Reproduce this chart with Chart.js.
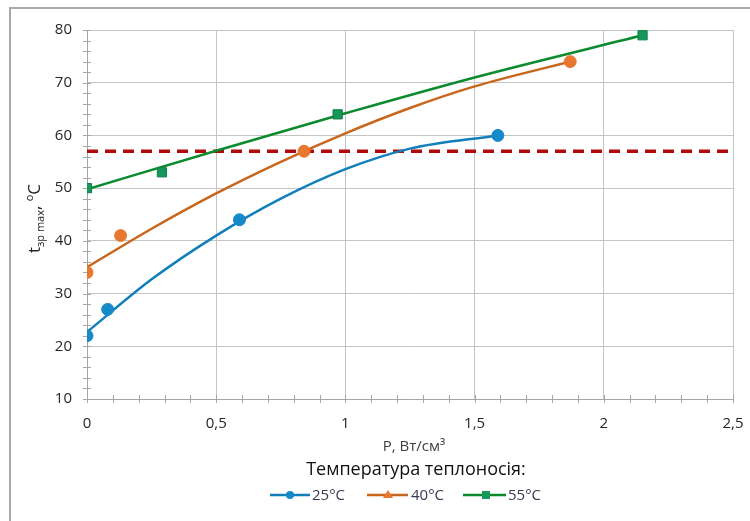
<!DOCTYPE html>
<html>
<head>
<meta charset="utf-8">
<script src="https://cdn.jsdelivr.net/npm/chart.js@4.4.0/dist/chart.umd.min.js"></script>
<style>
  html, body { margin: 0; padding: 0; background: #fff; }
  #wrap { position: relative; width: 750px; height: 521px; }
</style>
</head>
<body>
<div id="wrap"><canvas id="chart" width="750" height="521"></canvas></div>
<script>
// measured points
const p25x = [0, 0.08, 0.59, 1.59];
const p25y = [22, 27, 44, 60];
const p40x = [0, 0.13, 0.84, 1.87];
const p40y = [34, 41, 57, 74];
const p55x = [0, 0.29, 0.97, 2.15];
const p55y = [50, 53, 64, 79];

// trend curves
const t25x = [0, 0.25, 0.5, 0.75, 1, 1.25, 1.59];
const t25y = [22.7, 32.7, 41, 48, 53.6, 57.5, 60];
const t40x = [0, 0.25, 0.5, 0.75, 1, 1.25, 1.5, 1.87];
const t40y = [35, 42.3, 49, 55, 60.4, 65.2, 69.3, 74];
const t55x = [0, 0.5, 1, 1.5, 2.15];
const t55y = [49.8, 57.1, 64.2, 71, 79];

const limitX = [0, 2.5];
const limitY = [57, 57];

const yTicks = [10, 20, 30, 40, 50, 60, 70, 80];
const xTicks = [0, 0.5, 1, 1.5, 2, 2.5];
const legendNames = ['25°C', '40°C', '55°C'];

const pts = (xs, ys) => xs.map((x, i) => ({ x: x, y: ys[i] }));

const C25 = '#1689c9', L25 = '#127fba';
const C40 = '#e7782f', L40 = '#c8661c';
const C55 = '#15975a', L55 = '#0b8a2e';
const FONT = '"Open Sans", "Noto Sans", sans-serif';

const extras = {
  id: 'extras',
  beforeDatasetsDraw(chart) {
    const ctx = chart.ctx;
    const xs = chart.scales.x, ys = chart.scales.y;
    const a = chart.chartArea;
    ctx.save();
    ctx.strokeStyle = '#a6a6a6';
    ctx.lineWidth = 1;
    // minor ticks on y axis
    for (let v = 10; v <= 80; v += 2) {
      const py = Math.round(ys.getPixelForValue(v)) + 0.5;
      ctx.beginPath();
      ctx.moveTo(a.left - 4, py);
      ctx.lineTo(a.left + 4, py);
      ctx.stroke();
    }
    // minor ticks on x axis
    for (let i = 0; i <= 25; i++) {
      const px = Math.round(xs.getPixelForValue(i / 10)) + 0.5;
      ctx.beginPath();
      ctx.moveTo(px, a.bottom - 4);
      ctx.lineTo(px, a.bottom + 4);
      ctx.stroke();
    }
    ctx.restore();
  },
  afterDraw(chart) {
    const ctx = chart.ctx;
    const a = chart.chartArea;
    ctx.save();
    // outer frame
    ctx.strokeStyle = '#a9a9a9';
    ctx.lineWidth = 2;
    ctx.beginPath();
    ctx.moveTo(10, 521);
    ctx.lineTo(10, 8);
    ctx.lineTo(750, 8);
    ctx.stroke();

    ctx.fillStyle = '#262626';
    // y title: t зр max, °C (rotated)
    ctx.save();
    ctx.translate(40, (a.top + a.bottom) / 2 + 4);
    ctx.rotate(-Math.PI / 2);
    ctx.textBaseline = 'alphabetic';
    const big = '17px ' + FONT, small = '11px ' + FONT;
    const parts = [
      ['t', big, 0], ['зр max', small, 4], [', ', big, 0], ['o', small, -7], ['C', big, 0]
    ];
    let w = 0;
    parts.forEach(p => { ctx.font = p[1]; w += ctx.measureText(p[0]).width; });
    let x = -w / 2;
    parts.forEach(p => {
      ctx.font = p[1];
      ctx.fillText(p[0], x, p[2]);
      x += ctx.measureText(p[0]).width;
    });
    ctx.restore();

    // x title
    ctx.textAlign = 'center';
    ctx.textBaseline = 'middle';
    ctx.font = '15px ' + FONT;
    ctx.fillStyle = '#404040';
    ctx.fillText('P, Вт/см³', 414, 447);

    // legend title
    ctx.font = '18px ' + FONT;
    ctx.fillStyle = '#111';
    ctx.fillText('Температура теплоносія:', 416, 470);

    // legend items
    const items = [
      { x0: 270, x1: 310, m: 290, tx: 312, col: L25, mc: C25, shape: 'circle' },
      { x0: 367, x1: 408, m: 388, tx: 411, col: L40, mc: C40, shape: 'triangle' },
      { x0: 463, x1: 506, m: 486, tx: 508, col: L55, mc: C55, shape: 'square' }
    ];
    const ly = 495;
    ctx.font = '15px ' + FONT;
    ctx.textAlign = 'left';
    items.forEach((it, i) => {
      ctx.strokeStyle = it.col;
      ctx.lineWidth = 2.5;
      ctx.beginPath();
      ctx.moveTo(it.x0, ly);
      ctx.lineTo(it.x1, ly);
      ctx.stroke();
      ctx.fillStyle = it.mc;
      ctx.beginPath();
      if (it.shape === 'circle') {
        ctx.arc(it.m, ly, 4, 0, Math.PI * 2);
      } else if (it.shape === 'triangle') {
        ctx.moveTo(it.m, ly - 5);
        ctx.lineTo(it.m + 5, ly + 3);
        ctx.lineTo(it.m - 5, ly + 3);
        ctx.closePath();
      } else {
        ctx.rect(it.m - 4, ly - 4, 8, 8);
      }
      ctx.fill();
      ctx.fillStyle = '#3a3a52';
      ctx.fillText(legendNames[i], it.tx, ly + 1);
    });
    ctx.restore();
  }
};

new Chart(document.getElementById('chart').getContext('2d'), {
  type: 'scatter',
  data: {
    datasets: [
      {
        label: legendNames[0], data: pts(p25x, p25y), order: 0,
        pointStyle: 'circle', pointRadius: 6, pointHoverRadius: 6,
        backgroundColor: C25, borderColor: C25, borderWidth: 1, showLine: false
      },
      {
        label: legendNames[1], data: pts(p40x, p40y), order: 0,
        pointStyle: 'circle', pointRadius: 6, pointHoverRadius: 6,
        backgroundColor: C40, borderColor: C40, borderWidth: 1, showLine: false
      },
      {
        label: legendNames[2], data: pts(p55x, p55y), order: 0,
        pointStyle: 'rect', pointRadius: 6.5, pointHoverRadius: 6.5,
        backgroundColor: C55, borderColor: '#0e7f45', borderWidth: 1, showLine: false
      },
      {
        label: 'trend 25', data: pts(t25x, t25y), order: 1, showLine: true,
        borderColor: L25, borderWidth: 2.5, pointRadius: 0, cubicInterpolationMode: 'monotone'
      },
      {
        label: 'trend 40', data: pts(t40x, t40y), order: 1, showLine: true,
        borderColor: L40, borderWidth: 2.5, pointRadius: 0, cubicInterpolationMode: 'monotone'
      },
      {
        label: 'trend 55', data: pts(t55x, t55y), order: 1, showLine: true,
        borderColor: L55, borderWidth: 2.5, pointRadius: 0, cubicInterpolationMode: 'monotone'
      },
      {
        label: 'limit', data: pts(limitX, limitY), order: 2, showLine: true,
        borderColor: '#b00a0a', borderWidth: 3.5, borderDash: [11, 7], pointRadius: 0
      }
    ]
  },
  options: {
    responsive: false,
    animation: false,
    layout: { padding: { left: 0, right: 17, top: 30, bottom: 0 } },
    plugins: { legend: { display: false }, tooltip: { enabled: false } },
    scales: {
      x: {
        type: 'linear', min: 0, max: 2.5,
        afterBuildTicks: s => { s.ticks = xTicks.map(v => ({ value: v })); },
        afterFit: s => { s.height = 122; s.paddingLeft = 0; s.paddingRight = 0; },
        grid: { color: '#c4c4c4', drawTicks: false },
        border: { color: '#a6a6a6' },
        ticks: {
          padding: 16, color: '#262626', font: { size: 15, family: FONT },
          callback: v => String(v).replace('.', ',')
        }
      },
      y: {
        type: 'linear', min: 10, max: 80,
        afterBuildTicks: s => { s.ticks = yTicks.map(v => ({ value: v })); },
        afterFit: s => { s.width = 87; s.paddingTop = 0; s.paddingBottom = 0; },
        grid: { color: '#c4c4c4', drawTicks: false },
        border: { color: '#a6a6a6' },
        ticks: { padding: 15, color: '#262626', font: { size: 15, family: FONT } }
      }
    }
  },
  plugins: [extras]
});
</script>
</body>
</html>
